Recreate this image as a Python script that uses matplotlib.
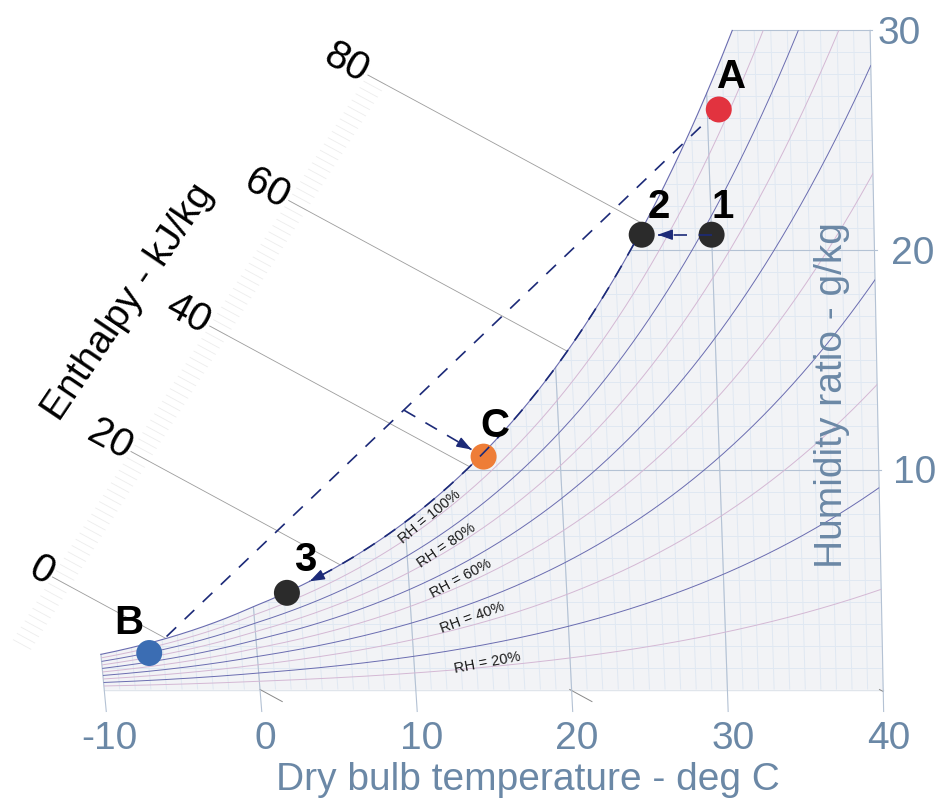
import numpy as np
import matplotlib

matplotlib.use("Agg")
import matplotlib.pyplot as plt
from matplotlib.patches import Polygon

plt.rcParams["font.family"] = ["Liberation Sans", "DejaVu Sans"]

# state points: dry bulb (deg C), humidity ratio (g/kg)
point_names = ["A", "1", "2", "C", "3", "B"]
point_tdb = [30.7, 30.0, 25.7, 15.2, 2.2, -6.9]
point_w = [26.4, 20.7, 20.7, 10.6, 4.4, 1.66]
point_colors = ["#e2333f", "#2b2b2b", "#2b2b2b", "#ee7d37", "#2b2b2b", "#3b6db3"]
# label offsets (points) from each marker
label_dx = [9.4, 8.0, 12.2, 8.0, 13.0, -14.4]
label_dy = [15.8, 12.2, 12.2, 14.4, 15.8, 13.7]

rh_levels = [10, 20, 30, 40, 50, 60, 70, 80, 90, 100]
rh_label_levels = [100, 80, 60, 40, 20]
rh_label_tdb = [11.6, 12.5, 13.3, 13.9, 14.7]
rh_label_w = [7.85, 6.53, 5.03, 3.25, 1.21]

tdb_ticks = [-10, 0, 10, 20, 30, 40]
w_ticks = [10, 20, 30]
h_ticks = [0, 20, 40, 60, 80]

# process: A and B mixed (fraction along A->B), then to C; 1 -> 2, 2 -> 3 on saturation
mix_fraction = 0.553
sat_leg_tdb = [25.2, 3.7]

P_ATM = 101.325
C0, C1 = 0.112, 0.0021  # skew of the dry bulb lines
NAVY = "#1c2a78"
SLATE = "#6b88a6"
BLUE_RH = "#6a6cb0"
MAUVE_RH = "#d4b8d4"


def pws(t):
    t = np.asarray(t, dtype=float)
    water = 0.61094 * np.exp(17.625 * t / (t + 243.04))
    ice = 0.61115 * np.exp(22.452 * t / (272.55 + t))
    return np.where(t < 0, ice, water)


def w_at(t, rh):
    pv = rh / 100.0 * pws(t)
    return 622.0 * pv / (P_ATM - pv)


def cx(t, w):
    t = np.asarray(t, dtype=float)
    w = np.asarray(w, dtype=float)
    return t + w * (C1 * t - C0)


def t_from_h(h, w):
    return (h - 2.501 * w) / (1.006 + 0.00186 * w)


def h_scale_w(h):
    # humidity ratio where each enthalpy line starts on the left scale
    return 5.12 + 0.2856 * h


fig = plt.figure(figsize=(9.41, 7.98), dpi=100)
ax = fig.add_axes([0, 0, 1, 1])
ax.set_xlim(-260 / 15.58, (941 - 260) / 15.58)
ax.set_ylim((689.5 - 798) / 21.97, 689.5 / 21.97)
ax.axis("off")


def to_px(x, y):
    return ax.transData.transform(np.column_stack([x, y]))


def to_data(p):
    return ax.transData.inverted().transform(p)


def angle_of(x, y):
    p = to_px(x, y)
    d = p[-1] - p[0]
    return np.degrees(np.arctan2(d[1], d[0]))


# chart region
t_sat = np.linspace(-10, 40, 2001)
w_sat = w_at(t_sat, 100)
t_top = np.interp(30, w_sat, t_sat)
keep = t_sat <= t_top
ts = np.append(t_sat[keep], t_top)
wsat = np.append(w_sat[keep], 30.0)
verts = [(cx(-10, 0), 0), (cx(40, 0), 0), (cx(40, 30), 30)]
verts += list(zip(cx(ts[::-1], wsat[::-1]), wsat[::-1]))
region = Polygon(verts, closed=True, facecolor="#f2f3f6", edgecolor="none", zorder=1)
ax.add_patch(region)

# minor grid
for t in range(-10, 41):
    ww = np.array([0.0, 31.0])
    (ln,) = ax.plot(cx(t, ww), ww, color="#e0e8f2", lw=0.7, zorder=2)
    ln.set_clip_path(region)
for w in range(1, 31):
    (ln,) = ax.plot(cx(np.array([-10.0, 40.0]), w), [w, w], color="#e0e8f2", lw=0.7, zorder=2)
    ln.set_clip_path(region)
ax.plot([cx(-10, 0), cx(40, 0)], [0, 0], color="#e0e5eb", lw=1.0, zorder=2)

# major grid
for t in tdb_ticks:
    top = min(float(w_at(t, 100)), 30.0)
    ww = np.array([-1.0, top])
    ax.plot(cx(t, ww), ww, color="#b4c2d4", lw=0.8, zorder=3)
for w in w_ticks:
    t0 = np.interp(w, w_sat, t_sat)
    ax.plot([cx(t0, w), cx(40, w) + 0.15], [w, w], color="#b4c2d4", lw=0.8, zorder=3)

# relative humidity lines
for rh in rh_levels:
    ww = w_at(t_sat, rh)
    color = BLUE_RH if rh % 20 == 0 else MAUVE_RH
    if rh == 100:
        m = ww <= 30
        ax.plot(cx(t_sat[m], ww[m]), ww[m], color=color, lw=0.8, zorder=4)
    else:
        (ln,) = ax.plot(cx(t_sat, ww), ww, color=color, lw=0.7, zorder=4)
        ln.set_clip_path(region)

for rh, t, w in zip(rh_label_levels, rh_label_tdb, rh_label_w):
    tt = np.array([t - 0.4, t + 0.4])
    ang = angle_of(cx(tt, w_at(tt, rh)), w_at(tt, rh))
    ax.text(cx(t, w), w, f"RH = {rh}%", fontsize=10.5, color="#1a1a1a", rotation=ang,
            rotation_mode="anchor", ha="center", va="center", zorder=5)

# enthalpy lines and scale
h_sat = 1.006 * t_sat + w_sat * (2.501 + 0.00186 * t_sat)
for h in range(-10, 81):
    w1 = h_scale_w(h)
    ww = np.array([w1 - 0.43, w1])
    ax.plot(cx(t_from_h(h, ww), ww), ww, color="#ededed", lw=0.6, zorder=2)
for h in h_ticks:
    w1 = h_scale_w(h)
    w0 = np.interp(h, h_sat, w_sat)
    ww = np.linspace(w0, w1, 60)
    xs = cx(t_from_h(h, ww), ww)
    ax.plot(xs, ww, color="#9c9c9c", lw=0.6, zorder=2)
    ang = angle_of(xs, ww)
    ax.text(xs[-1] - 0.1, w1 + 0.05, str(h), fontsize=29, color="black", rotation=ang + 180,
            rotation_mode="anchor", ha="right", va="center", zorder=5)
    # short stubs below the chart bottom
    wb = np.linspace(-0.55, 0, 20)
    xb = cx(t_from_h(h, wb), wb)
    mb = xb <= cx(40, wb)
    if h <= 40 and mb.sum() > 1:
        ax.plot(xb[mb], wb[mb], color="#888888", lw=0.7, zorder=2)

# axis texts
for t in tdb_ticks:
    ax.text(cx(t, 0) + 0.35, -2.69, str(t), fontsize=28, color=SLATE,
            ha="center", va="baseline")
for w, xpos in zip(w_ticks, [42.04, 41.91, 41.01]):
    ax.text(xpos, w - 0.62, str(w), fontsize=28, color=SLATE, ha="center", va="baseline")
ax.text(17.2, -4.12, "Dry bulb temperature - deg C", fontsize=28, color=SLATE,
        ha="center", va="center")
ax.text(36.7, 13.38, "Humidity ratio - g/kg", fontsize=28, color=SLATE,
        rotation=90, ha="center", va="center", zorder=6)
ax.text(-8.47, 17.64, "Enthalpy - kJ/kg", fontsize=28, color="black",
        rotation=56, ha="center", va="center")

# process lines
px_pts = {n: (float(cx(t, w)), w) for n, t, w in zip(point_names, point_tdb, point_w)}
dash = (0, (8, 7))


def dashed_arrow(xs, ys, trim):
    p = to_px(xs, ys)
    seg = np.hypot(*np.diff(p, axis=0).T)
    cum = np.concatenate([[0.0], np.cumsum(seg)])
    end = cum[-1] - trim
    k = cum < end
    tip = np.array([np.interp(end, cum, p[:, 0]), np.interp(end, cum, p[:, 1])])
    back = np.array([np.interp(end - 3, cum, p[:, 0]), np.interp(end - 3, cum, p[:, 1])])
    path = to_data(np.vstack([p[k], tip]))
    ax.plot(path[:, 0], path[:, 1], color=NAVY, lw=1.2, ls=dash, zorder=7)
    ax.annotate("", xy=to_data(tip), xytext=to_data(back),
                arrowprops=dict(arrowstyle="-|>,head_length=0.45,head_width=0.16",
                                mutation_scale=20, color=NAVY, lw=1.0,
                                shrinkA=0, shrinkB=0), zorder=7)


ax_, aw = px_pts["A"]
bx, bw = px_pts["B"]
ax.plot([ax_, bx], [aw, bw], color=NAVY, lw=1.2, ls=dash, zorder=5)
mx = ax_ + mix_fraction * (bx - ax_)
mw = aw + mix_fraction * (bw - aw)
dashed_arrow(np.array([mx, px_pts["C"][0]]), np.array([mw, px_pts["C"][1]]), 14)
dashed_arrow(np.array([px_pts["1"][0], px_pts["2"][0]]),
             np.array([px_pts["1"][1], px_pts["2"][1]]), 16)
tl = np.linspace(sat_leg_tdb[0], sat_leg_tdb[1], 200)
wl = w_at(tl, 100)
dashed_arrow(cx(tl, wl), wl, 0)

# state points
for n, c, dx, dy in zip(point_names, point_colors, label_dx, label_dy):
    x, w = px_pts[n]
    ax.scatter([x], [w], s=350, color=c, edgecolors="none", zorder=6)
    ax.annotate(n, (x, w), xytext=(dx, dy), textcoords="offset points",
                fontsize=29, fontweight="bold", color="black",
                ha="center", va="baseline", zorder=8)

fig.savefig("out.png", dpi=100)
